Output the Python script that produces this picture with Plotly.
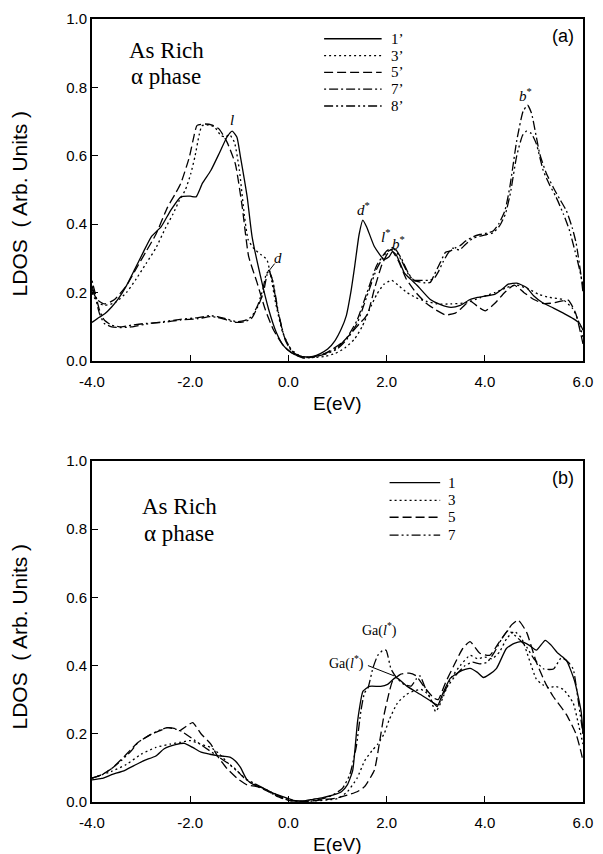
import plotly.graph_objects as go

# ---------------- data (E in eV, LDOS in arb. units) ----------------
x_ticks = [-4.0, -2.0, 0.0, 2.0, 4.0, 6.0]
x_tick_text = ["-4.0", "-2.0", "0.0", "2.0", "4.0", "6.0"]
y_ticks = [0.0, 0.2, 0.4, 0.6, 0.8, 1.0]
y_tick_text = ["0.0", "0.2", "0.4", "0.6", "0.8", "1.0"]

# panel (a)
a_1 = [(-4.0,0.113),(-3.85,0.128),(-3.74,0.138),(-3.6,0.158),(-3.47,0.181),(-3.3,0.22),(-3.13,0.268),
       (-2.95,0.32),(-2.79,0.364),(-2.59,0.393),(-2.4,0.44),(-2.19,0.48),(-2.0,0.482),(-1.88,0.48),
       (-1.75,0.52),(-1.58,0.557),(-1.4,0.61),(-1.25,0.655),(-1.145,0.672),(-1.05,0.655),(-0.98,0.60),
       (-0.84,0.48),(-0.74,0.364),(-0.57,0.249),(-0.40,0.15),(-0.25,0.085),(-0.1,0.045),(0.05,0.025),
       (0.2,0.015),(0.35,0.012),(0.5,0.014),(0.65,0.022),(0.8,0.035),(0.95,0.06),(1.08,0.095),(1.18,0.133),
       (1.27,0.2),(1.35,0.277),(1.44,0.37),(1.515,0.412),(1.6,0.39),(1.75,0.335),(1.95,0.297),(2.05,0.305),
       (2.12,0.32),(2.2,0.31),(2.36,0.258),(2.5,0.238),(2.63,0.22),(2.89,0.18),(3.1,0.165),(3.31,0.157),
       (3.5,0.163),(3.7,0.18),(3.85,0.186),(4.0,0.19),(4.2,0.195),(4.35,0.21),(4.48,0.225),(4.65,0.228),
       (4.85,0.215),(5.0,0.19),(5.17,0.171),(5.4,0.155),(5.6,0.14),(5.8,0.124),(5.93,0.11),(6.0,0.09)]
a_3 = [(-4.0,0.20),(-3.9,0.172),(-3.74,0.163),(-3.54,0.17),(-3.3,0.20),(-3.1,0.24),(-2.9,0.285),(-2.7,0.33),
       (-2.5,0.39),(-2.35,0.43),(-2.22,0.47),(-2.1,0.50),(-1.99,0.547),(-1.9,0.60),(-1.82,0.66),(-1.76,0.688),
       (-1.6,0.69),(-1.5,0.684),(-1.38,0.66),(-1.28,0.655),(-1.2,0.662),(-1.1,0.64),(-1.0,0.56),(-0.9,0.43),
       (-0.82,0.355),(-0.71,0.33),(-0.55,0.31),(-0.44,0.297),(-0.36,0.25),(-0.26,0.17),(-0.12,0.085),
       (0.05,0.035),(0.25,0.014),(0.5,0.01),(0.75,0.014),(0.95,0.022),(1.15,0.038),(1.35,0.065),(1.5,0.1),
       (1.65,0.15),(1.8,0.195),(1.95,0.225),(2.1,0.236),(2.25,0.22),(2.42,0.2),(2.6,0.185),(2.8,0.175),
       (3.03,0.167),(3.3,0.167),(3.64,0.171),(3.9,0.185),(4.2,0.2),(4.45,0.215),(4.65,0.222),(4.9,0.21),
       (5.1,0.195),(5.32,0.186),(5.59,0.18),(5.79,0.153),(5.9,0.12),(6.0,0.07)]
a_5 = [(-4.0,0.21),(-3.9,0.18),(-3.74,0.167),(-3.54,0.18),(-3.3,0.22),(-3.1,0.27),(-2.9,0.32),(-2.7,0.37),
       (-2.46,0.45),(-2.3,0.49),(-2.19,0.52),(-2.02,0.595),(-1.92,0.66),(-1.86,0.689),(-1.7,0.693),
       (-1.55,0.69),(-1.41,0.678),(-1.25,0.64),(-1.08,0.576),(-0.94,0.45),(-0.81,0.306),(-0.64,0.23),
       (-0.47,0.15),(-0.3,0.09),(-0.1,0.045),(0.1,0.022),(0.3,0.012),(0.5,0.012),(0.7,0.02),(0.9,0.035),
       (1.1,0.055),(1.3,0.085),(1.45,0.11),(1.55,0.125),(1.62,0.14),(1.75,0.21),(1.9,0.28),(2.0,0.31),
       (2.09,0.326),(2.25,0.29),(2.4,0.24),(2.6,0.2),(2.8,0.17),(3.0,0.15),(3.2,0.135),(3.4,0.14),
       (3.55,0.158),(3.7,0.176),(3.85,0.16),(4.01,0.147),(4.2,0.168),(4.4,0.2),(4.6,0.222),(4.8,0.2),
       (5.0,0.18),(5.2,0.168),(5.4,0.17),(5.55,0.175),(5.7,0.178),(5.85,0.14),(6.0,0.05)]
a_7 = [(-4.0,0.235),(-3.92,0.19),(-3.85,0.15),(-3.75,0.12),(-3.6,0.105),(-3.4,0.1),(-3.2,0.105),(-2.9,0.11),
       (-2.55,0.113),(-2.2,0.12),(-1.84,0.124),(-1.6,0.13),(-1.45,0.128),(-1.25,0.12),(-1.06,0.113),
       (-0.9,0.115),(-0.75,0.125),(-0.62,0.16),(-0.51,0.2),(-0.44,0.25),(-0.4,0.265),(-0.33,0.24),
       (-0.22,0.15),(-0.08,0.07),(0.1,0.025),(0.3,0.01),(0.5,0.012),(0.75,0.022),(1.0,0.04),(1.2,0.07),
       (1.4,0.12),(1.6,0.2),(1.8,0.28),(2.0,0.322),(2.15,0.332),(2.3,0.3),(2.45,0.255),(2.56,0.236),
       (2.76,0.229),(2.89,0.23),(2.96,0.249),(3.1,0.29),(3.2,0.318),(3.3,0.322),(3.39,0.33),(3.5,0.338),
       (3.6,0.35),(3.77,0.364),(3.9,0.37),(4.04,0.374),(4.17,0.38),(4.28,0.40),(4.41,0.44),(4.51,0.509),
       (4.65,0.644),(4.78,0.73),(4.87,0.748),(4.95,0.725),(5.12,0.605),(5.25,0.55),(5.39,0.509),
       (5.52,0.475),(5.66,0.44),(5.78,0.39),(5.86,0.345),(5.96,0.25),(6.0,0.2)]
a_8 = [(-4.0,0.22),(-3.92,0.18),(-3.85,0.14),(-3.75,0.11),(-3.6,0.1),(-3.4,0.098),(-3.2,0.1),(-2.9,0.108),
       (-2.55,0.115),(-2.2,0.122),(-1.84,0.127),(-1.6,0.133),(-1.45,0.13),(-1.25,0.123),(-1.06,0.115),
       (-0.9,0.118),(-0.75,0.13),(-0.62,0.165),(-0.52,0.21),(-0.45,0.255),(-0.4,0.262),(-0.32,0.235),
       (-0.2,0.14),(-0.06,0.06),(0.1,0.022),(0.3,0.009),(0.5,0.011),(0.75,0.02),(1.0,0.036),(1.2,0.065),
       (1.4,0.11),(1.6,0.19),(1.8,0.27),(2.0,0.318),(2.15,0.328),(2.3,0.295),(2.45,0.252),(2.56,0.236),
       (2.7,0.236),(2.85,0.236),(2.96,0.24),(3.05,0.26),(3.15,0.29),(3.25,0.315),(3.35,0.33),(3.48,0.325),
       (3.6,0.34),(3.75,0.358),(3.9,0.365),(4.04,0.37),(4.17,0.375),(4.3,0.395),(4.42,0.43),(4.52,0.49),
       (4.65,0.6),(4.77,0.66),(4.85,0.672),(4.95,0.665),(5.05,0.635),(5.19,0.557),(5.32,0.515),(5.45,0.48),
       (5.6,0.43),(5.72,0.384),(5.84,0.32),(5.93,0.268),(6.0,0.22)]

# panel (b)
b_1 = [(-4.0,0.065),(-3.8,0.069),(-3.6,0.08),(-3.33,0.093),(-3.1,0.11),(-2.93,0.122),(-2.7,0.135),
       (-2.53,0.156),(-2.3,0.168),(-2.12,0.172),(-1.95,0.16),(-1.78,0.146),(-1.6,0.14),(-1.45,0.136),
       (-1.3,0.134),(-1.18,0.131),(-1.08,0.12),(-0.98,0.102),(-0.84,0.064),(-0.7,0.05),(-0.505,0.04),
       (-0.3,0.025),(-0.1,0.015),(0.1,0.005),(0.3,0.003),(0.5,0.008),(0.7,0.013),(0.9,0.02),(1.08,0.03),
       (1.2,0.05),(1.31,0.093),(1.41,0.238),(1.52,0.325),(1.65,0.339),(1.88,0.339),(2.02,0.345),
       (2.19,0.365),(2.42,0.339),(2.69,0.315),(2.96,0.29),(3.03,0.28),(3.15,0.32),(3.3,0.363),(3.5,0.383),
       (3.7,0.392),(3.85,0.38),(3.97,0.365),(4.1,0.375),(4.24,0.392),(4.44,0.45),(4.6,0.465),(4.75,0.47),
       (4.9,0.46),(5.05,0.445),(5.23,0.474),(5.35,0.46),(5.49,0.436),(5.66,0.416),(5.83,0.354),
       (5.96,0.267),(6.0,0.2)]
b_3 = [(-4.0,0.07),(-3.6,0.09),(-3.3,0.11),(-3.0,0.14),(-2.7,0.16),(-2.4,0.17),(-2.2,0.175),(-1.99,0.18),
       (-1.8,0.17),(-1.58,0.16),(-1.4,0.14),(-1.2,0.11),(-1.0,0.085),(-0.8,0.06),(-0.6,0.045),(-0.4,0.03),
       (-0.2,0.015),(0.0,0.005),(0.2,0.002),(0.5,0.003),(0.8,0.006),(1.0,0.01),(1.2,0.03),(1.4,0.07),
       (1.55,0.12),(1.7,0.15),(1.82,0.17),(1.95,0.2),(2.05,0.24),(2.22,0.29),(2.4,0.315),(2.55,0.325),
       (2.7,0.33),(2.85,0.315),(3.0,0.265),(3.1,0.29),(3.3,0.36),(3.5,0.40),(3.7,0.43),(3.85,0.42),
       (4.0,0.425),(4.15,0.42),(4.3,0.44),(4.45,0.48),(4.6,0.50),(4.75,0.48),(4.9,0.42),(5.05,0.36),
       (5.18,0.344),(5.3,0.335),(5.43,0.339),(5.6,0.33),(5.8,0.29),(5.92,0.22),(6.0,0.17)]
b_5 = [(-4.0,0.07),(-3.8,0.08),(-3.6,0.098),(-3.4,0.125),(-3.2,0.155),(-3.06,0.175),(-2.79,0.199),
       (-2.6,0.21),(-2.46,0.218),(-2.3,0.215),(-2.22,0.209),(-2.08,0.222),(-1.95,0.233),(-1.78,0.2),
       (-1.58,0.17),(-1.45,0.136),(-1.25,0.098),(-1.04,0.069),(-0.84,0.05),(-0.64,0.045),(-0.4,0.03),
       (-0.2,0.015),(0.0,0.005),(0.2,0.002),(0.4,0.002),(0.6,0.005),(0.8,0.008),(1.0,0.012),(1.2,0.02),
       (1.4,0.03),(1.55,0.045),(1.75,0.093),(1.85,0.17),(1.95,0.257),(2.05,0.32),(2.12,0.354),(2.28,0.374),
       (2.46,0.378),(2.6,0.37),(2.76,0.339),(2.96,0.305),(3.05,0.30),(3.2,0.35),(3.37,0.40),(3.55,0.45),
       (3.7,0.47),(3.9,0.436),(4.1,0.43),(4.3,0.47),(4.44,0.498),(4.55,0.52),(4.68,0.533),(4.85,0.498),
       (5.05,0.41),(5.25,0.344),(5.39,0.31),(5.66,0.257),(5.86,0.199),(5.96,0.146),(6.0,0.12)]
b_7 = [(-4.0,0.07),(-3.8,0.08),(-3.6,0.098),(-3.4,0.122),(-3.2,0.15),(-3.06,0.175),(-2.79,0.199),
       (-2.6,0.212),(-2.46,0.218),(-2.3,0.214),(-2.2,0.209),(-2.05,0.195),(-1.9,0.18),(-1.7,0.16),
       (-1.5,0.14),(-1.3,0.12),(-1.1,0.1),(-0.9,0.07),(-0.7,0.055),(-0.5,0.04),(-0.3,0.025),(-0.1,0.012),
       (0.1,0.004),(0.3,0.002),(0.5,0.005),(0.7,0.01),(0.9,0.02),(1.1,0.04),(1.25,0.08),(1.38,0.16),
       (1.48,0.27),(1.55,0.32),(1.62,0.334),(1.72,0.392),(1.82,0.43),(1.93,0.445),(1.99,0.445),(2.09,0.39),
       (2.2,0.365),(2.35,0.345),(2.5,0.34),(2.6,0.36),(2.68,0.37),(2.8,0.33),(2.95,0.29),(3.05,0.285),
       (3.2,0.33),(3.4,0.37),(3.6,0.40),(3.75,0.41),(3.9,0.405),(4.05,0.41),(4.2,0.44),(4.35,0.48),
       (4.48,0.503),(4.6,0.49),(4.75,0.47),(4.85,0.455),(5.0,0.42),(5.2,0.39),(5.4,0.39),(5.56,0.423),
       (5.7,0.41),(5.8,0.39),(5.9,0.3),(6.0,0.2)]

panel_a = [("1’", a_1, "solid"), ("3’", a_3, "2px,3px"), ("5’", a_5, "9px,4px"),
           ("7’", a_7, "2px,3px,9px,3px"), ("8’", a_8, "9px,3px,2px,3px,2px,3px")]
panel_b = [("1", b_1, "solid"), ("3", b_3, "2px,3px"), ("5", b_5, "9px,4px"),
           ("7", b_7, "9px,3px,2px,3px,2px,3px")]

# ---------------- figure ----------------
W, H = 603, 854
ML, MR, MT, MB = 92, 16, 10, 52
PH = H - MT - MB
PW = W - ML - MR
TOP_Y0, TOP_Y1 = 356, 10      # pixel rows of panel (a) bottom/top
BOT_Y0, BOT_Y1 = 802, 457     # pixel rows of panel (b) bottom/top


def py(pix):  # pixel row -> paper y
    return (H - MB - pix) / PH


def px(pix):  # pixel column -> paper x
    return (pix - ML) / PW


fig = go.Figure()
for name, pts, dash in panel_a:
    fig.add_trace(go.Scatter(x=[p[0] for p in pts], y=[p[1] for p in pts], mode="lines",
                             line=dict(color="black", width=1.3, dash=dash, shape="spline", smoothing=0.5),
                             xaxis="x", yaxis="y", showlegend=False, name=name))
for name, pts, dash in panel_b:
    fig.add_trace(go.Scatter(x=[p[0] for p in pts], y=[p[1] for p in pts], mode="lines",
                             line=dict(color="black", width=1.3, dash=dash, shape="spline", smoothing=0.5),
                             xaxis="x2", yaxis="y2", showlegend=False, name=name))

axis_common = dict(showline=True, linewidth=2, linecolor="black", mirror=True, ticks="inside",
                   ticklen=6, tickwidth=1, tickcolor="black", showgrid=False, zeroline=False,
                   tickfont=dict(family="Liberation Sans, Arial, sans-serif", size=15, color="black"))

fig.update_layout(
    width=W, height=H, margin=dict(l=ML, r=MR, t=MT, b=MB),
    paper_bgcolor="white", plot_bgcolor="white",
    xaxis=dict(domain=[0, 1], range=[-4, 6], anchor="y", tickvals=x_ticks, ticktext=x_tick_text,
               ticklabelstandoff=6, **axis_common),
    yaxis=dict(domain=[py(TOP_Y0), py(TOP_Y1)], range=[0, 1], anchor="x", tickvals=y_ticks,
               ticktext=y_tick_text, **axis_common),
    xaxis2=dict(domain=[0, 1], range=[-4, 6], anchor="y2", tickvals=x_ticks, ticktext=x_tick_text,
                ticklabelstandoff=6, **axis_common),
    yaxis2=dict(domain=[py(BOT_Y0), py(BOT_Y1)], range=[0, 1], anchor="x2", tickvals=y_ticks,
                ticktext=y_tick_text, **axis_common),
)

sans = "Liberation Sans, Arial, sans-serif"
serif = "Liberation Serif, Times New Roman, serif"
ann = []
shapes = []

# axis titles
for ycen, xlab_y in [(197, 399), (635, 845)]:
    ann.append(dict(text="LDOS  ( Arb. Units )", xref="paper", yref="paper", x=px(19), y=py(ycen),
                    textangle=-90, showarrow=False, font=dict(family=sans, size=21, color="black"),
                    xanchor="center", yanchor="middle"))
    ann.append(dict(text="E(eV)", xref="paper", yref="paper", x=0.5, y=py(xlab_y), showarrow=False,
                    font=dict(family=sans, size=19, color="black"), xanchor="center", yanchor="middle"))

# panel texts
for (xr, yr, y0, ptop, lab, ax_, ay1, ay2) in [("x domain", "y domain", TOP_Y0, TOP_Y1, "(a)", 127, 42, 68),
                                               ("x2 domain", "y2 domain", BOT_Y0, BOT_Y1, "(b)", 140, 503, 530)]:
    hgt = y0 - ptop
    ann.append(dict(text=lab, xref=xr, yref=yr, x=(567 - ML) / PW, y=(y0 - (ptop + 17)) / hgt,
                    showarrow=False, font=dict(family=sans, size=18, color="black"),
                    xanchor="center", yanchor="middle"))
    ann.append(dict(text="As Rich", xref=xr, yref=yr, x=(ax_ - ML) / PW, y=(y0 - ay1) / hgt,
                    showarrow=False, font=dict(family=serif, size=23, color="black"),
                    xanchor="left", yanchor="middle"))
    ann.append(dict(text="α phase", xref=xr, yref=yr, x=(ax_ + 2 - ML) / PW, y=(y0 - ay2) / hgt,
                    showarrow=False, font=dict(family=serif, size=23, color="black"),
                    xanchor="left", yanchor="middle"))

# legends (line keys + labels)
leg_a_rows = [30, 47, 64, 81, 98]
for (name, pts, dash), row in zip(panel_a, leg_a_rows):
    yv = (TOP_Y0 - row) / (TOP_Y0 - TOP_Y1)
    shapes.append(dict(type="line", xref="x domain", yref="y domain", x0=(326 - ML) / PW,
                       x1=(384 - ML) / PW, y0=yv, y1=yv, line=dict(color="black", width=1.3, dash=dash)))
    ann.append(dict(text=name, xref="x domain", yref="y domain", x=(391 - ML) / PW, y=yv, showarrow=False,
                    font=dict(family=serif, size=15, color="black"), xanchor="left", yanchor="middle"))
leg_b_rows = [479, 497, 514, 532]
for (name, pts, dash), row in zip(panel_b, leg_b_rows):
    yv = (BOT_Y0 - row) / (BOT_Y0 - BOT_Y1)
    shapes.append(dict(type="line", xref="x2 domain", yref="y2 domain", x0=(392 - ML) / PW,
                       x1=(443 - ML) / PW, y0=yv, y1=yv, line=dict(color="black", width=1.3, dash=dash)))
    ann.append(dict(text=name, xref="x2 domain", yref="y2 domain", x=(449 - ML) / PW, y=yv, showarrow=False,
                    font=dict(family=serif, size=15, color="black"), xanchor="left", yanchor="middle"))

# peak labels panel (a)
lab_font = dict(family=serif, size=15, color="black")
for txt, xx, yy in [("<i>l</i>", -1.15, 0.705), ("<i>d</i><sup>*</sup>", 1.52, 0.445),
                    ("<i>l</i><sup>*</sup>", 1.98, 0.365), ("<i>b</i><sup>*</sup>", 2.24, 0.345),
                    ("<i>b</i><sup>*</sup>", 4.83, 0.778), ("<i>d</i>", -0.22, 0.30)]:
    ann.append(dict(text=txt, x=xx, y=yy, xref="x", yref="y", showarrow=False, font=lab_font,
                    xanchor="center", yanchor="middle"))
# leader from label "d" to its peak
shapes.append(dict(type="line", xref="x", yref="y", x0=-0.28, y0=0.285, x1=-0.40, y1=0.263,
                   line=dict(color="black", width=1)))

# peak labels panel (b)
ann.append(dict(text="Ga(<i>l</i><sup>*</sup>)", x=1.85, y=0.505, xref="x2", yref="y2", showarrow=False,
                font=dict(family=serif, size=14, color="black")))
ann.append(dict(text="Ga(<i>l</i><sup>*</sup>)", x=1.18, y=0.41, xref="x2", yref="y2", showarrow=False,
                font=dict(family=serif, size=14, color="black")))
shapes.append(dict(type="line", xref="x2", yref="y2", x0=1.62, y0=0.40, x1=2.15, y1=0.37,
                   line=dict(color="black", width=1)))

fig.update_layout(annotations=ann, shapes=shapes)
fig.write_html("out.html")
